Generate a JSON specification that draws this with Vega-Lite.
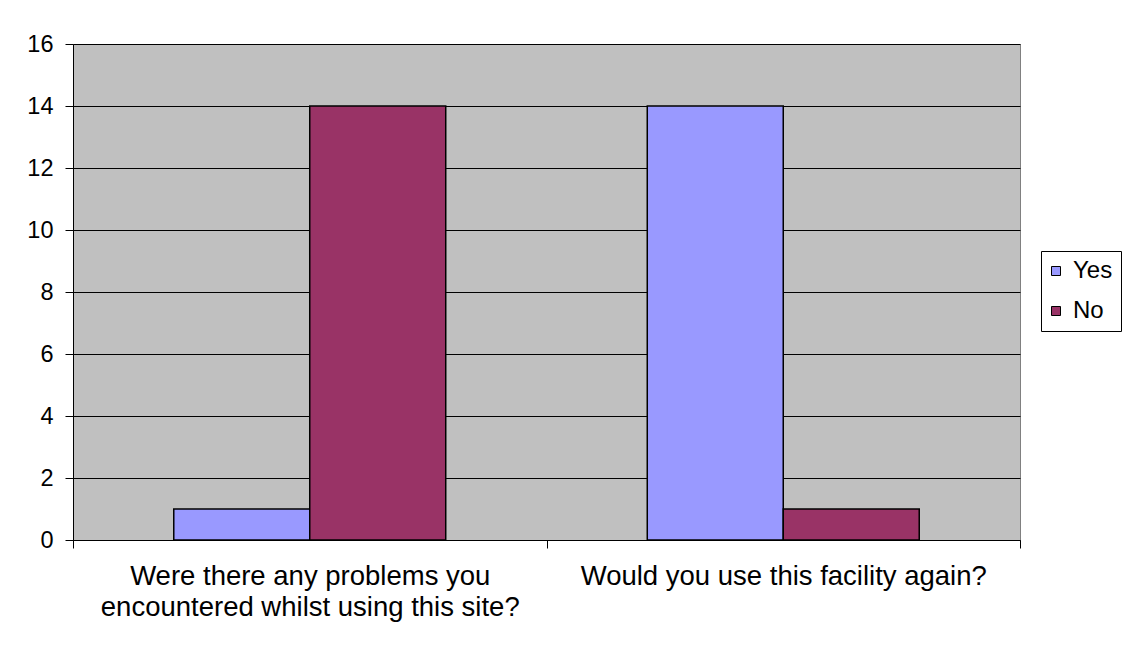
{
  "$schema": "https://vega.github.io/schema/vega-lite/v6.json",
  "width": 947,
  "height": 496,
  "autosize": {"type": "none"},
  "padding": {"left": 73, "top": 44, "right": 110, "bottom": 115},
  "background": "white",
  "data": {
    "values": [
      {"question": "Were there any problems you encountered whilst using this site?", "answer": "Yes", "count": 1},
      {"question": "Were there any problems you encountered whilst using this site?", "answer": "No", "count": 14},
      {"question": "Would you use this facility again?", "answer": "Yes", "count": 14},
      {"question": "Would you use this facility again?", "answer": "No", "count": 1}
    ]
  },
  "config": {
    "view": {"stroke": "#808080", "fill": "#C0C0C0", "strokeWidth": 1},
    "font": "Liberation Sans",
    "axis": {"labelFont": "Liberation Sans", "labelColor": "black", "domainColor": "black", "tickColor": "black", "titleFont": "Liberation Sans"}
  },
  "mark": {"type": "bar", "stroke": "black", "strokeWidth": 1.5},
  "encoding": {
    "x": {
      "field": "question",
      "type": "nominal",
      "sort": null,
      "scale": {"paddingInner": 0, "paddingOuter": 0},
      "axis": {
        "title": null,
        "labelAngle": 0,
        "labelFontSize": 27.5,
        "labelLineHeight": 31,
        "labelLimit": 0,
        "labelPadding": 14,
        "tickBand": "extent",
        "tickSize": 8,
        "domainWidth": 1,
        "labelExpr": "datum.value == 'Were there any problems you encountered whilst using this site?' ? ['Were there any problems you', 'encountered whilst using this site?'] : datum.value"
      }
    },
    "xOffset": {
      "field": "answer",
      "type": "nominal",
      "sort": ["Yes", "No"],
      "scale": {"paddingInner": 0, "paddingOuter": 0.741}
    },
    "y": {
      "field": "count",
      "type": "quantitative",
      "scale": {"domain": [0, 16]},
      "axis": {
        "title": null,
        "values": [0, 2, 4, 6, 8, 10, 12, 14, 16],
        "labelFontSize": 23.5,
        "labelPadding": 12,
        "tickSize": 8,
        "gridColor": "black",
        "gridOpacity": 1,
        "gridWidth": 1
      }
    },
    "color": {
      "field": "answer",
      "type": "nominal",
      "sort": ["Yes", "No"],
      "scale": {"domain": ["Yes", "No"], "range": ["#9999FF", "#993366"]},
      "legend": {
        "title": null,
        "orient": "none",
        "legendX": 968,
        "legendY": 207,
        "symbolType": "square",
        "symbolSize": 81,
        "symbolStrokeColor": "black",
        "symbolStrokeWidth": 1,
        "symbolOpacity": 1,
        "symbolOffset": -5,
        "labelFontSize": 24,
        "labelFont": "Liberation Sans",
        "labelColor": "black",
        "labelOffset": 5,
        "rowPadding": 16,
        "padding": 8,
        "strokeColor": "black",
        "fillColor": "white"
      }
    }
  }
}
